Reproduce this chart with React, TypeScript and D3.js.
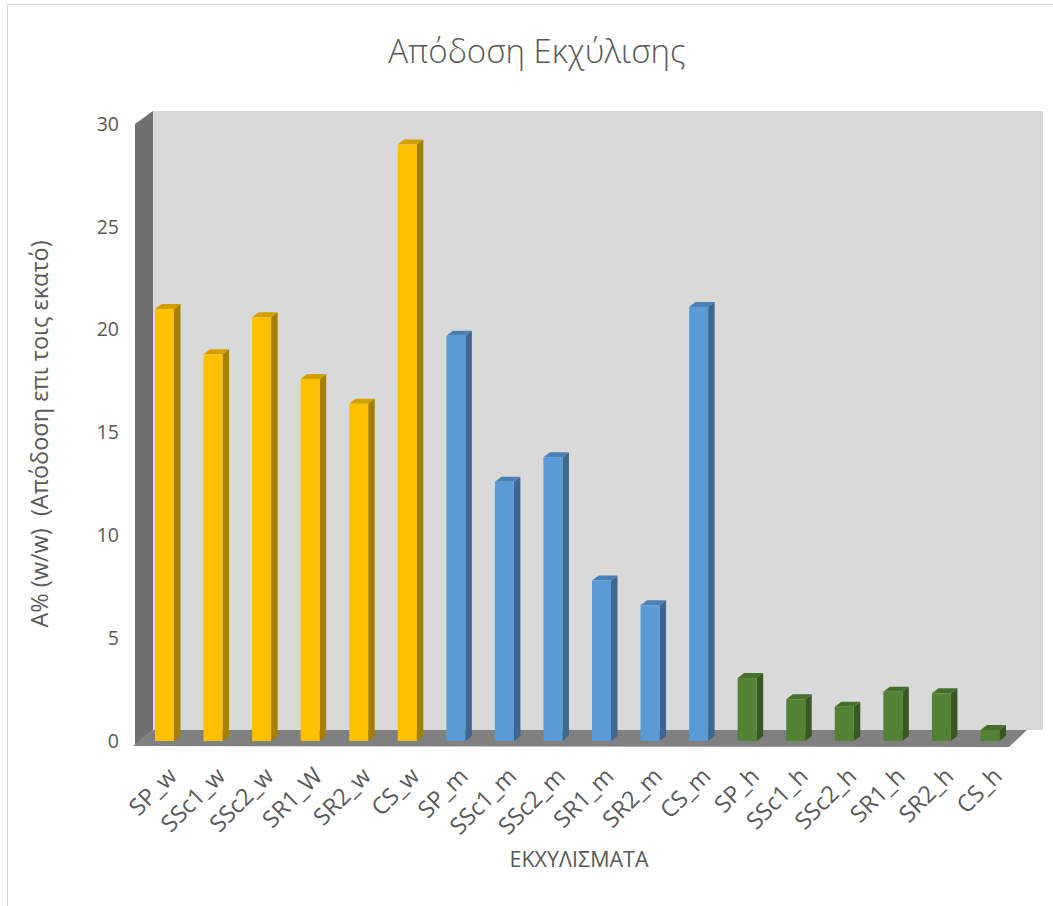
import React from "react";
import * as d3 from "d3";

const categories = [
  "SP_w", "SSc1_w", "SSc2_w", "SR1_W", "SR2_w", "CS_w",
  "SP_m", "SSc1_m", "SSc2_m", "SR1_m", "SR2_m", "CS_m",
  "SP_h", "SSc1_h", "SSc2_h", "SR1_h", "SR2_h", "CS_h",
];
const values = [
  21.0, 18.8, 20.6, 17.6, 16.4, 29.0,
  19.7, 12.6, 13.8, 7.8, 6.6, 21.1,
  3.06, 2.03, 1.67, 2.4, 2.32, 0.53,
];
const groups = ["w", "w", "w", "w", "w", "w", "m", "m", "m", "m", "m", "m", "h", "h", "h", "h", "h", "h"];
const yTicks = [0, 5, 10, 15, 20, 25, 30];

const palette: Record<string, { front: string; top: string; side: string }> = {
  w: { front: "#FFC000", top: "#D1A000", side: "#A67F00" },
  m: { front: "#5B9BD5", top: "#4B80B5", side: "#3D6690" },
  h: { front: "#548235", top: "#466E2C", side: "#375723" },
};

export default function App() {
  const W = 1053, H = 906;
  const x0 = 135, x1 = 1009;
  const depthX = 18;
  const x = d3.scaleBand<string>().domain(categories).range([x0, x1]);
  const y = d3.scaleLinear().domain([0, 30]).range([741, 124]);
  const font = "'Open Sans', 'Noto Sans', sans-serif";
  const textColor = "#595959";
  const barW = 19, bdx = 6.5, bdy = 5, barOff = 20;
  const baseY = y(0);
  const floorFront = 746;
  const topY = y(30);

  return (
    <svg width={W} height={H} style={{ position: "absolute", left: 0, top: 0, background: "#fff" }} fontFamily={font}>
      <rect x={7.5} y={4.5} width={1100} height={1000} fill="#fff" stroke="#d9d9d9" strokeWidth={1} />
      <text x={537} y={63} textAnchor="middle" fontSize={33} fill={textColor} fontWeight={300}>Απόδοση Εκχύλισης</text>

      {/* back wall */}
      <rect x={x0 + depthX} y={topY - 13} width={x1 - x0 + 16} height={baseY - 11 - (topY - 13)} fill="#d9d9d9" />
      {/* left wall */}
      <polygon points={`${x0},${topY} ${x0 + depthX},${topY - 13} ${x0 + depthX},${floorFront - 16} ${x0},${floorFront - 1}`} fill="#6f6f6f" />
      {/* floor */}
      <polygon points={`${x0 - 2},${floorFront} ${x0 + depthX},${floorFront - 16} ${x1 + depthX},${floorFront - 16} ${x1},${floorFront + 1}`} fill="#808080" />

      {/* y ticks */}
      {yTicks.map((t) => (
        <text key={t} x={119} y={y(t)} dy="0.35em" textAnchor="end" fontSize={19.5} fill={textColor}>{t}</text>
      ))}

      {/* bars */}
      {categories.map((c, i) => {
        const p = palette[groups[i]];
        const bx = (x(c) as number) + barOff;
        const yt = y(values[i]);
        return (
          <g key={c}>
            <polygon points={`${bx + barW},${yt} ${bx + barW + bdx},${yt - bdy} ${bx + barW + bdx},${baseY - bdy} ${bx + barW},${baseY}`} fill={p.side} />
            <polygon points={`${bx},${yt} ${bx + bdx},${yt - bdy} ${bx + barW + bdx},${yt - bdy} ${bx + barW},${yt}`} fill={p.top} />
            <rect x={bx} y={yt} width={barW} height={baseY - yt} fill={p.front} />
          </g>
        );
      })}

      {/* x labels */}
      {categories.map((c) => {
        const cx = (x(c) as number) + barOff + barW / 2 + 2;
        const cy = 766;
        return (
          <text key={c} x={cx} y={cy} textAnchor="end" fontSize={23.5} fill={textColor} transform={`rotate(-45 ${cx} ${cy})`} dy="0.7em">{c}</text>
        );
      })}

      <text x={579} y={867} textAnchor="middle" fontSize={21.5} fill={textColor}>ΕΚΧΥΛΙΣΜΑΤΑ</text>
      <text transform={`translate(48 434) rotate(-90)`} textAnchor="middle" fontSize={23.5} fill={textColor} style={{ whiteSpace: "pre" }}>{"A% (w/w)  (Απόδοση επι τοις εκατό)"}</text>
    </svg>
  );
}
